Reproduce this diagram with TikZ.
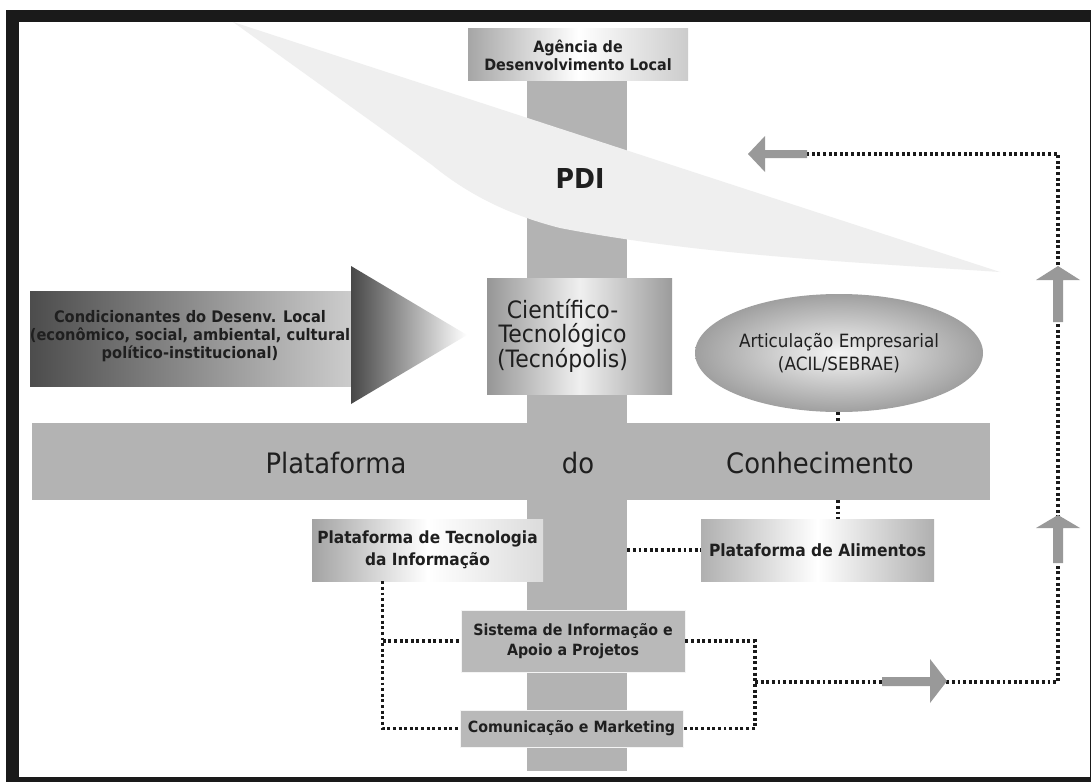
\documentclass[tikz,border=0pt]{standalone}
\usepackage{fontspec}
\setmainfont{DejaVu Sans}[FakeStretch=0.92]
\usetikzlibrary{calc}
\usetikzlibrary{shapes.geometric}

\definecolor{bargray}{RGB}{179,179,179}
\definecolor{pdigray}{RGB}{239,239,239}
\definecolor{arrowgray}{RGB}{153,153,153}
\definecolor{framegray}{RGB}{26,26,26}
\newcommand{\pxu}{0.025cm}

\begin{document}
\begin{tikzpicture}[x=0.025cm,y=-0.025cm,
    bar/.style={fill=bargray, inner sep=0pt},
    shadebox/.style={inner sep=0pt, align=center, text=black!88},
    flatbox/.style={inner sep=0pt, align=center, text=black!88, fill=bargray!92!white, draw=white!85!bargray, line width=0.6pt},
    bigword/.style={anchor=base, text=black!88, font=\fontsize{20}{24}\selectfont},
    smallbold/.style 2 args={font=\bfseries\fontsize{#1}{#2}\selectfont},
    dotline/.style={framegray, line width=2.2pt, dash pattern=on 2.1pt off 1.9pt}]

    % page and frame
    \fill[white] (0,0) rectangle (1091,782);
    \useasboundingbox (0,0) rectangle (1091,782);
    \fill[framegray] (6,10) rectangle (1091,782);
    \fill[white] (18.5,22.5) rectangle (1089.5,776.7);

    % the two bars
    \node[bar, minimum width=100*\pxu, minimum height=690*\pxu] (vbar) at (577,426) {};

    % PDI band
    \fill[pdigray] (233,22) -- (1000,272)
      .. controls (850,262) and (700,255) .. (560,228)
      .. controls (505,214) and (465,192) .. (432,165) -- cycle;
    \node[font=\bfseries\fontsize{19.5}{22}\selectfont, text=black!88] (pdi) at (580,179) {PDI};

    \node[bar, minimum width=958*\pxu, minimum height=77*\pxu] (hbar) at (511,461.5) {};
    \node[bigword] (wplat) at (336,473) {Plataforma};
    \node[bigword] (wdo) at (578,473) {do};
    \node[bigword] (wconh) at (820,473) {Conhecimento};

    % boxes on the vertical bar
    \node[shadebox, smallbold={11.1}{12.8}, minimum width=220*\pxu, minimum height=52*\pxu,
      left color=gray!70, right color=gray!40, middle color=white] (agencia) at (578,55)
      {Agência de\\Desenvolvimento Local};

    \node[shadebox, minimum width=185*\pxu, minimum height=116*\pxu,
      left color=gray!82, right color=gray!78, middle color=white!88!gray,
      label={[xshift=-17*\pxu, align=center, text=black!88, font=\fontsize{17}{17}\selectfont]center:Científico-\\Tecnológico\\(Tecnópolis)}]
      (cient) at (579.5,336) {};

    % Condicionantes arrow
    \shade[left color=black!70, right color=black!20] (30,291) rectangle (351,386);
    \shade[left color=black!72, right color=white] (351,266) -- (467,335) -- (351,404) -- cycle;
    \node[align=center, text=black!88, smallbold={11.3}{12.8}] (cond) at (190,336)
      {Condicionantes do Desenv. Local\\(econômico, social, ambiental, cultural\\político-institucional)};

    \node[ellipse, minimum width=288*\pxu, minimum height=118*\pxu, inner sep=0pt,
      inner color=gray!8, outer color=gray!75, align=center, text=black!88,
      font=\fontsize{13}{16.4}\selectfont] (artic) at (839,353)
      {Articulação Empresarial\\(ACIL/SEBRAE)};

    \node[shadebox, smallbold={11.9}{15.6}, minimum width=231*\pxu, minimum height=62*\pxu,
      left color=gray!72, right color=gray!28, middle color=white] (tecinfo) at (427.5,550)
      {Plataforma de Tecnologia\\da Informação};
    \node[shadebox, smallbold={12}{14}, minimum width=233*\pxu, minimum height=62*\pxu,
      left color=gray!62, right color=gray!62, middle color=white] (alim) at (817.5,550)
      {Plataforma de Alimentos};
    \node[flatbox, smallbold={11}{14.2}, minimum width=224*\pxu, minimum height=62*\pxu] (sistema) at (573,641)
      {Sistema de Informação e\\Apoio a Projetos};
    \node[flatbox, smallbold={11}{14}, minimum width=223*\pxu, minimum height=37*\pxu] (comunic) at (571.5,728.5)
      {Comunicação e Marketing};

    % dotted links
    \coordinate (artdot) at ($(artic.south)+(-1,0)$);
    \draw[dotline] (artdot) -- (artdot |- hbar.north);
    \draw[dotline] (hbar.south -| artdot) -- (alim.north -| artdot);
    \draw[dotline] (alim.west -| vbar.east) -- (alim.west);
    \coordinate (tiend) at ($(tecinfo.south west)+(71,0)$);
    \draw[dotline] (tiend) |- (comunic.west);
    \draw[dotline] (sistema.west -| tiend) -- (sistema.west);
    \coordinate (rjoin) at (755,682);
    \draw[dotline] (sistema.east) -| (rjoin) |- (comunic.east);
    \coordinate (rcorner) at (1058,682);
    \coordinate (tcorner) at (1058,154);
    \coordinate (lend) at (807,154);
    \draw[dotline] (rjoin) -- (rcorner) -- (tcorner) -- (lend);

    % gray arrows
    \fill[arrowgray] (882,677) -- (930,677) -- (930,659) -- (947,681) -- (930,703) -- (930,686) -- (882,686) -- cycle;
    \fill[arrowgray] (1053,563) -- (1053,528) -- (1036,528) -- (1058,515) -- (1080,528) -- (1063,528) -- (1063,563) -- cycle;
    \fill[arrowgray] (1053,322) -- (1053,280) -- (1036,280) -- (1058,266) -- (1080,280) -- (1063,280) -- (1063,322) -- cycle;
    \fill[arrowgray] (807,150) -- (765,150) -- (765,136) -- (748,154) -- (765,172) -- (765,158) -- (807,158) -- cycle;

  \end{tikzpicture}
\end{document}
